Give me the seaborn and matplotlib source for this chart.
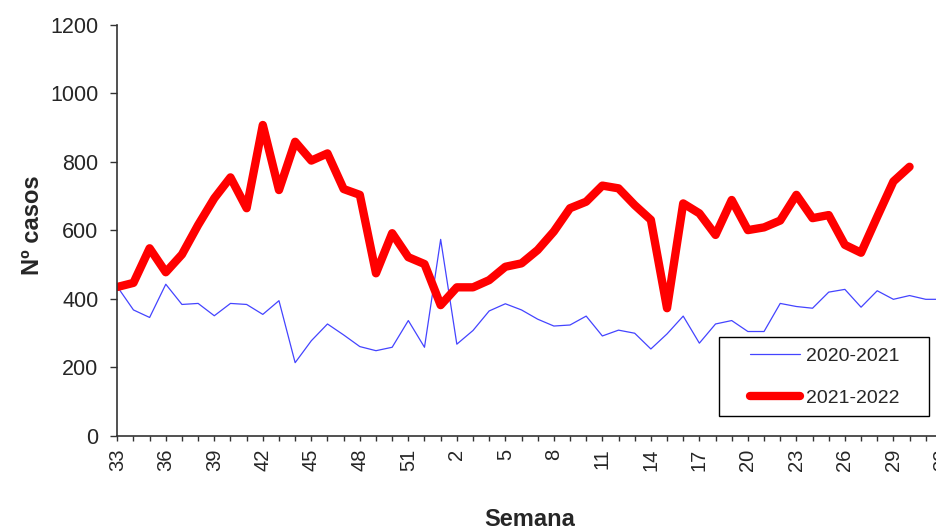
"""
Casos semanales: temporada 2020-2021 vs 2021-2022
"""

import pandas as pd
import matplotlib.pyplot as plt
import seaborn as sns
from matplotlib.patches import Rectangle

# Semanas epidemiologicas (33..52, luego 1..32)
weeks = list(range(33, 53)) + list(range(1, 33))

# Valores
cases_2020_21 = [436, 368, 346, 443, 384, 387, 351, 387, 384, 355,
                 395, 214, 278, 327, 295, 261, 249, 259, 337, 259,
                 574, 268, 308, 365, 386, 368, 341, 321, 324, 350,
                 292, 309, 300, 254, 298, 350, 271, 327, 337, 305,
                 305, 387, 378, 373, 420, 428, 376, 424, 399, 410,
                 399, 399]
cases_2021_22 = [435, 447, 548, 478, 530, 616, 694, 755, 665, 908,
                 718, 859, 804, 825, 721, 704, 475, 592, 522, 502,
                 382, 434, 434, 455, 494, 504, 543, 597, 665, 684,
                 731, 723, 674, 631, 373, 679, 650, 587, 689, 601,
                 609, 629, 704, 636, 645, 558, 535, 640, 743, 786]

df_a = pd.DataFrame({"idx": range(len(cases_2020_21)), "casos": cases_2020_21})
df_b = pd.DataFrame({"idx": range(len(cases_2021_22)), "casos": cases_2021_22})

sns.set_style("ticks")
plt.rcParams["font.family"] = ["Liberation Sans", "DejaVu Sans"]

fig = plt.figure(figsize=(9.36, 5.30), dpi=100)
# el eje sigue mas alla del borde derecho (imagen recortada)
ax = fig.add_axes([0.1253, 0.1774, 0.881, 0.7755])

sns.lineplot(data=df_a, x="idx", y="casos", ax=ax, color="#4444ff",
             linewidth=0.9, label="2020-2021")
sns.lineplot(data=df_b, x="idx", y="casos", ax=ax, color="#ff0000",
             linewidth=6, label="2021-2022")

ax.set_xlim(0, len(weeks) - 1)
ax.set_ylim(0, 1200)
ax.set_yticks(range(0, 1201, 200))
ax.set_xticks(range(len(weeks)))
ax.set_xticklabels([str(w) if i % 3 == 0 else "" for i, w in enumerate(weeks)],
                   rotation=90)
ax.tick_params(axis="y", labelsize=15.5, length=5, width=1, color="#333333", pad=8.5)
ax.tick_params(axis="x", labelsize=14.5, length=3.6, width=1, color="#333333", pad=5.5)

for side in ["top", "right"]:
    ax.spines[side].set_visible(False)
for side in ["left", "bottom"]:
    ax.spines[side].set_color("#333333")
    ax.spines[side].set_linewidth(1.2)

ax.set_xlabel("Semana", fontsize=17, fontweight="bold")
ax.set_ylabel("Nº casos", fontsize=17, fontweight="bold")
ax.xaxis.set_label_coords(0.5, -0.175)
ax.yaxis.set_label_coords(-0.089, 0.513)

# recuadro de la leyenda (con mas margen lateral que el de matplotlib)
ax.add_patch(Rectangle((0.768, 0.215), 0.2244, 0.149, transform=fig.transFigure,
                       facecolor="white", edgecolor="black", linewidth=1,
                       zorder=4, clip_on=False))
leg = ax.legend(loc="upper left", bbox_to_anchor=(0.8013, 0.344),
                bbox_transform=fig.transFigure, borderaxespad=0, borderpad=0,
                fontsize=14, handlelength=2.57, handletextpad=0.3,
                labelspacing=1.25, frameon=False)
leg.set_zorder(5)

fig.savefig("out.png", dpi=100)
